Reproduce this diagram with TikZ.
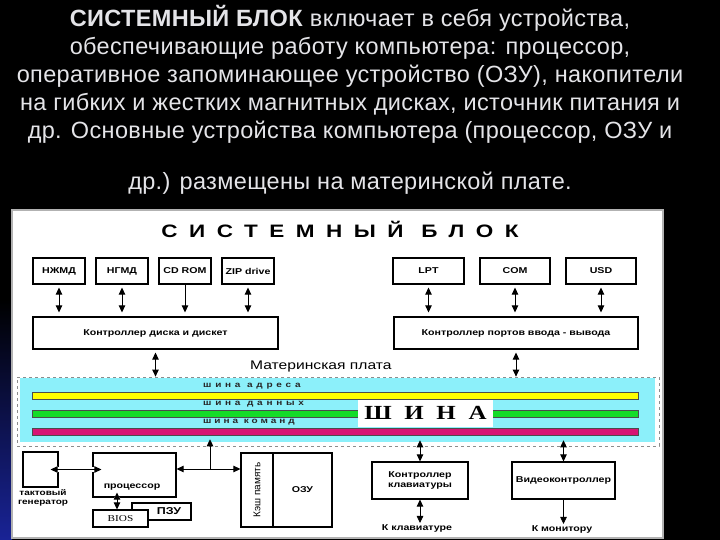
\documentclass[tikz,border=0pt]{standalone}
\usepackage{fontspec}
\setmainfont{Liberation Sans}
\newfontfamily\shemafont[FakeStretch=1.25]{Liberation Sans}
\newfontfamily\shemaserif[FakeStretch=1.25]{Liberation Serif}
\usetikzlibrary{arrows.meta}
\definecolor{goluboj}{RGB}{140,240,250}
\definecolor{zheltyj}{RGB}{255,255,0}
\definecolor{zelenyj}{RGB}{20,220,40}
\definecolor{malinovyj}{RGB}{215,20,115}
\definecolor{sinij}{RGB}{25,35,150}
\definecolor{svetlyj}{RGB}{228,228,232}

\begin{document}
\begin{tikzpicture}[x=1pt,y=-1pt,>={Triangle[length=7pt,width=6.5pt]},
    zag/.style={text=svetlyj,inner sep=0pt,anchor=base,
      font=\fontsize{23.5}{26}\selectfont\addfontfeature{LetterSpace=1.5}},
    box/.style={draw,line width=1.2pt,fill=white,inner sep=0pt,font=\shemafont\fontsize{8.5}{10}\selectfont\bfseries},
    lbl/.style={inner sep=0pt,font=\shemafont\fontsize{8.5}{10}\selectfont\bfseries},
    shinalbl/.style={inner sep=0pt,anchor=west,text=black!85,
      font=\shemafont\fontsize{8}{9}\selectfont\bfseries\addfontfeature{LetterSpace=47}},
    liniya/.style={draw=black!70,line width=0.6pt,inner sep=0pt,
      minimum width=606pt,minimum height=7pt},
    svyaz/.style={<->,line width=0.8pt},
    odna/.style={->,line width=0.8pt},
    razr/.style={preaction={draw=white,line width=5pt}}]
  \useasboundingbox (0,0) rectangle (720,540);
  \fill[black] (0,0) rectangle (720,540);
  \shade[top color=black,bottom color=sinij] (0,300) rectangle (12,540);

  % text above the scheme
  \node[zag] (str1) at (350,27)  {\textbf{СИСТЕМНЫЙ БЛОК} включает в себя устройства,};
  \node[zag] (str2) at (350,55)  {обеспечивающие работу компьютера: процессор,};
  \node[zag] (str3) at (350,83)  {оперативное запоминающее устройство (ОЗУ), накопители};
  \node[zag] (str4) at (350,111) {на гибких и жестких магнитных дисках, источник питания и};
  \node[zag] (str5) at (350,139) {др. Основные устройства компьютера (процессор, ОЗУ и};
  \node[zag] (str6) at (350,190) {др.) размещены на материнской плате.};

  % panel
  \draw[fill=white,draw=black!30,line width=1.5pt] (12,210) rectangle (663,538);
  \node[inner sep=0pt,font=\shemafont\fontsize{18}{20}\selectfont\bfseries\addfontfeature{LetterSpace=64}]
    (zagl) at (340,229) {СИСТЕМНЫЙ БЛОК};

  % drives and ports
  \node[box,minimum width=52pt,minimum height=26pt] (nzhmd) at (59,271)  {НЖМД};
  \node[box,minimum width=52pt,minimum height=26pt] (ngmd)  at (122,271) {НГМД};
  \node[box,minimum width=52pt,minimum height=26pt] (cdrom) at (185,271) {CD ROM};
  \node[box,minimum width=52pt,minimum height=26pt] (zip)   at (248,271) {ZIP drive};
  \node[box,minimum width=71pt,minimum height=26pt] (lpt)   at (428.5,271) {LPT};
  \node[box,minimum width=70pt,minimum height=26pt] (com)   at (515,271) {COM};
  \node[box,minimum width=70pt,minimum height=26pt] (usd)   at (601,271) {USD};

  % controllers
  \node[box,minimum width=245pt,minimum height=32pt] (disk)  at (155.5,333) {Контроллер диска и дискет};
  \node[box,minimum width=244pt,minimum height=32pt] (porty) at (516,333) {Контроллер портов ввода - вывода};

  \draw[svyaz,shorten <=3pt,shorten >=4pt] (nzhmd) -- (nzhmd |- disk.north);
  \draw[svyaz,shorten <=3pt,shorten >=4pt] (ngmd) -- (ngmd |- disk.north);
  \draw[odna,shorten >=4pt] (cdrom) -- (cdrom |- disk.north);
  \draw[svyaz,shorten <=3pt,shorten >=4pt] (zip) -- (zip |- disk.north);
  \draw[svyaz,shorten <=3pt,shorten >=4pt] (lpt) -- (lpt |- porty.north);
  \draw[svyaz,shorten <=3pt,shorten >=4pt] (com) -- (com |- porty.north);
  \draw[svyaz,shorten <=3pt,shorten >=4pt] (usd) -- (usd |- porty.north);

  % motherboard and buses
  \node[anchor=west,inner sep=0pt,font=\shemafont\fontsize{12.5}{14}\selectfont] (mplata) at (250,366) {Материнская плата};
  \node[draw=black!45,dashed,line width=0.8pt,inner sep=0pt,
    minimum width=642pt,minimum height=69pt] (plata) at (338,411.5) {};
  \node[fill=goluboj,inner sep=0pt,minimum width=635pt,minimum height=64pt] (fon) at (337.5,410) {};
  \node[liniya,fill=zheltyj]   (adr) at (335,395.5) {};
  \node[liniya,fill=zelenyj]   (dan) at (335,414)   {};
  \node[liniya,fill=malinovyj] (kom) at (335,431.5) {};
  \node[fill=white,inner sep=0pt,minimum width=135pt,minimum height=27pt,
    font=\shemaserif\fontsize{20}{22}\selectfont\bfseries\addfontfeature{LetterSpace=63}]
    (shina) at (425.5,413) {ШИНА};
  \node[shinalbl] (adrtxt) at (203,386)   {шина адреса};
  \node[shinalbl] (dantxt) at (203,404.5) {шина данных};
  \node[shinalbl,font=\shemafont\fontsize{8}{9}\selectfont\bfseries\addfontfeature{LetterSpace=37}]
    (komtxt) at (203,422) {шина команд};

  \draw[svyaz,shorten <=3pt] (disk) -- (disk |- plata.north);
  \draw[svyaz,shorten <=3pt] (porty) -- (porty |- plata.north);

  % processor part
  \node[box,minimum width=35pt,minimum height=35pt] (tg) at (40.5,469.5) {};
  \node[lbl,align=center,font=\shemafont\fontsize{8}{9}\selectfont\bfseries] (tgtxt) at (43,497.5) {тактовый\\генератор};
  \node[box,minimum width=83pt,minimum height=44pt] (proc) at (134.5,475) {};
  \node[lbl] (proctxt) at (132,487) {процессор};
  \node[box,minimum width=59pt,minimum height=17pt] (pzu) at (161.5,511.5) {};
  \node[lbl,font=\shemafont\fontsize{10}{11}\selectfont\bfseries] (pzutxt) at (169,511.5) {ПЗУ};
  \node[box,minimum width=55pt,minimum height=17pt,font=\shemaserif\fontsize{9}{10}\selectfont] (bios) at (120.5,518.5) {BIOS};
  \node[box,minimum width=32pt,minimum height=74pt] (kesh) at (257,490) {};
  \node[rotate=90,inner sep=0pt,font=\fontsize{10}{11}\selectfont] (keshtxt) at (kesh) {Кэш память};
  \node[box,minimum width=59pt,minimum height=74pt] (ozu) at (302.5,490) {ОЗУ};

  \draw[svyaz,razr] ([xshift=-8pt]tg.east) -- ([xshift=9pt]proc.west |- tg.east);
  \draw[svyaz,razr] ([xshift=-3.5pt,yshift=5pt]proc.south -| bios.north) -- ([xshift=-3.5pt]bios.north);
  \coordinate (uzel) at (210,469);
  \draw[svyaz] (proc.east |- uzel) -- (kesh.west |- uzel);
  \draw[odna,shorten >=4pt] (uzel) -- (uzel |- kom.south);

  % keyboard and video
  \node[box,minimum width=96pt,minimum height=37pt,align=center] (klav) at (420,480.5) {Контроллер\\клавиатуры};
  \node[box,minimum width=103pt,minimum height=37pt] (video) at (563.5,480.5) {Видеоконтроллер};
  \node[lbl] (kklav) at (417,528) {К клавиатуре};
  \node[lbl] (kmon)  at (562,529) {К монитору};

  \draw[svyaz,shorten <=5pt] (klav.north |- kom.south) -- (klav.north);
  \draw[svyaz,shorten >=1pt] (klav.south) -- (klav.south |- kklav.north);
  \draw[svyaz,shorten <=5pt] (video.north |- kom.south) -- (video.north);
  \draw[odna,shorten >=1pt] (video.south) -- (video.south |- kmon.north);
\end{tikzpicture}
\end{document}
